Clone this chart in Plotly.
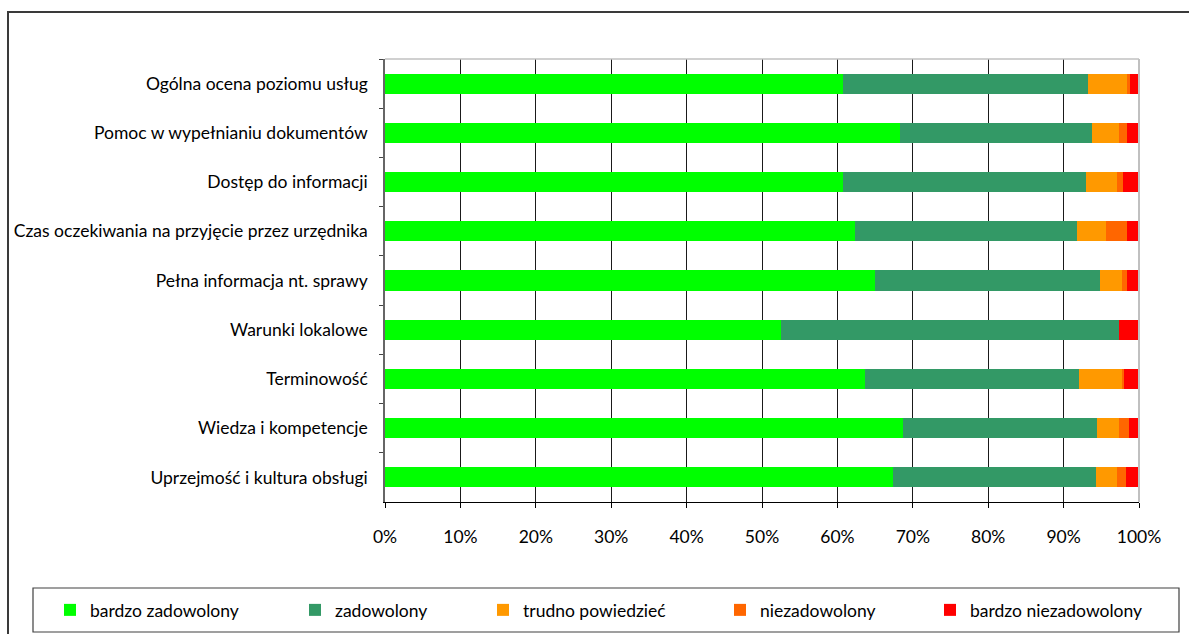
import plotly.graph_objects as go

categories = [
    "Ogólna ocena poziomu usług",
    "Pomoc w wypełnianiu dokumentów",
    "Dostęp do informacji",
    "Czas oczekiwania na przyjęcie przez urzędnika",
    "Pełna informacja nt. sprawy",
    "Warunki lokalowe",
    "Terminowość",
    "Wiedza i kompetencje",
    "Uprzejmość i kultura obsługi",
]
bardzo_zadowolony = [60.7, 68.3, 60.7, 62.3, 65.0, 52.5, 63.7, 68.7, 67.4]
zadowolony = [32.5, 25.5, 32.3, 29.5, 29.8, 44.8, 28.3, 25.7, 26.9]
trudno_powiedziec = [5.2, 3.5, 4.1, 3.8, 2.9, 0.0, 5.7, 2.9, 2.8]
niezadowolony = [0.4, 1.1, 0.8, 2.8, 0.7, 0.0, 0.3, 1.4, 1.2]
bardzo_niezadowolony = [1.2, 1.6, 2.1, 1.6, 1.6, 2.7, 2.0, 1.3, 1.7]

series_names = ["bardzo zadowolony", "zadowolony", "trudno powiedzieć",
                "niezadowolony", "bardzo niezadowolony"]
series_values = [bardzo_zadowolony, zadowolony, trudno_powiedziec,
                 niezadowolony, bardzo_niezadowolony]
colors = ["#00FF00", "#339966", "#FF9900", "#FF6600", "#FF0000"]
tick_vals = [0, 10, 20, 30, 40, 50, 60, 70, 80, 90, 100]
tick_text = [f"{v}%" for v in tick_vals]

W, H = 1189, 634
L, R, T, B = 385, 1139, 59, 502
pw, ph = R - L, B - T


def px_x(x):
    return (x - L) / pw


def px_y(y):
    return (B - y) / ph


FONT = "Lato"
FS = 17.5
fig = go.Figure()
legend_text_x = [90, 335, 523, 760, 970]
for i, (name, vals, col) in enumerate(zip(series_names, series_values, colors)):
    lg = "legend" if i == 0 else f"legend{i+1}"
    fig.add_trace(go.Bar(
        y=categories, x=vals, name=name, orientation="h",
        marker=dict(color=col, line=dict(width=0)),
        legend=lg,
    ))

legend_common = dict(
    orientation="h", yanchor="middle", xanchor="left",
    bgcolor="rgba(0,0,0,0)", borderwidth=0,
    font=dict(family=FONT, size=FS, color="#000"),
    itemclick=False,
)
layout_legends = {}
for i, tx in enumerate(legend_text_x):
    key = "legend" if i == 0 else f"legend{i+1}"
    layout_legends[key] = dict(legend_common, x=px_x(tx - 40), y=px_y(610))

fig.update_layout(
    width=W, height=H,
    barmode="stack", bargap=0.59,
    margin=dict(l=L, r=W - R, t=T, b=H - B, autoexpand=False),
    paper_bgcolor="white", plot_bgcolor="white",
    font=dict(family=FONT, size=FS, color="#000"),
    showlegend=True,
    **layout_legends,
    xaxis=dict(
        range=[0, 100], tickvals=tick_vals, ticktext=tick_text,
        showgrid=True, gridcolor="#1a1a1a", gridwidth=1,
        showline=True, linecolor="#000", linewidth=1,
        ticks="outside", ticklen=5, tickcolor="#000",
        ticklabelstandoff=14, zeroline=False,
        tickfont=dict(family=FONT, size=FS, color="#000"),
    ),
    yaxis=dict(
        autorange="reversed", type="category",
        showline=True, linecolor="#666", linewidth=1.5,
        ticks="outside", ticklen=4, tickcolor="#444", tickson="boundaries",
        ticklabelstandoff=12, showgrid=False,
        tickfont=dict(family=FONT, size=FS, color="#000"),
    ),
    shapes=[
        # plot area top and right border
        dict(type="line", xref="paper", yref="paper", x0=0, x1=1, y0=1, y1=1,
             line=dict(color="#c0c0c0", width=1.5)),
        dict(type="line", xref="paper", yref="paper", x0=1, x1=1, y0=0, y1=1,
             line=dict(color="#c0c0c0", width=2)),
        # outer frame
        dict(type="rect", xref="paper", yref="paper",
             x0=px_x(8), x1=px_x(1200), y0=px_y(645), y1=px_y(12),
             line=dict(color="#3a3a3a", width=2)),
        # legend box
        dict(type="rect", xref="paper", yref="paper",
             x0=px_x(33), x1=px_x(1179), y0=px_y(632), y1=px_y(588),
             line=dict(color="#404040", width=1.2)),
    ],
)

fig.write_html("out.html")
